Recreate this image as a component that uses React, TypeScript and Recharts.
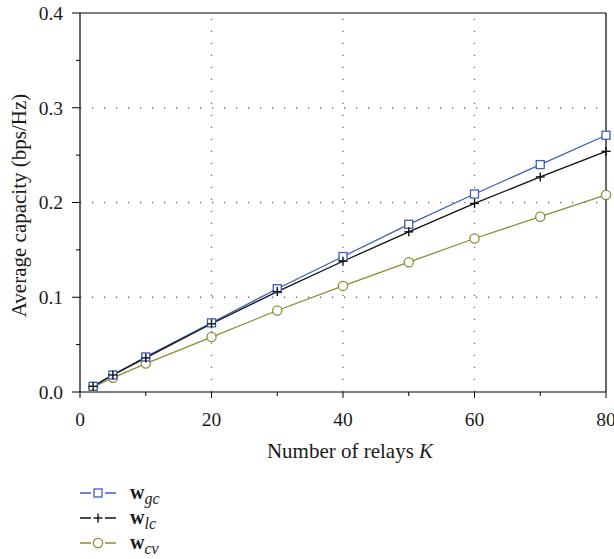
import { LineChart, Line, XAxis, YAxis, ReferenceLine, Label } from 'recharts';

const relays = [2, 5, 10, 20, 30, 40, 50, 60, 70, 80];
const wGc = [0.006, 0.018, 0.037, 0.073, 0.109, 0.143, 0.177, 0.209, 0.240, 0.271];
const wLc = [0.006, 0.018, 0.036, 0.072, 0.106, 0.138, 0.169, 0.199, 0.227, 0.254];
const wCv = [0.005, 0.015, 0.030, 0.058, 0.086, 0.112, 0.137, 0.162, 0.185, 0.208];

const xTicks = [0, 10, 20, 30, 40, 50, 60, 70, 80];
const yTicks = [0, 0.05, 0.1, 0.15, 0.2, 0.25, 0.3, 0.35, 0.4];
const xGrid = [20, 40, 60];
const yGrid = [0.1, 0.2, 0.3];

const BLUE = '#3f5fb8';
const BLACK = '#111111';
const OLIVE = '#8c8c34';
const FONT = '"Liberation Serif", "Times New Roman", serif';

const data = relays.map((k, i) => ({ k, gc: wGc[i], lc: wLc[i], cv: wCv[i] }));

const series = [
  { key: 'gc', sub: 'gc', color: BLUE, marker: 'square' },
  { key: 'lc', sub: 'lc', color: BLACK, marker: 'plus' },
  { key: 'cv', sub: 'cv', color: OLIVE, marker: 'circle' },
];

function Marker({ cx, cy, kind, color }: { cx: number; cy: number; kind: string; color: string }) {
  if (kind === 'square') {
    return <rect x={cx - 4} y={cy - 4} width={8} height={8} fill="#fff" stroke={color} strokeWidth={1.3} />;
  }
  if (kind === 'plus') {
    return (
      <g stroke={color} strokeWidth={1.4}>
        <line x1={cx - 4.5} x2={cx + 4.5} y1={cy} y2={cy} />
        <line x1={cx} x2={cx} y1={cy - 4.5} y2={cy + 4.5} />
      </g>
    );
  }
  return <circle cx={cx} cy={cy} r={4.6} fill="#fff" stroke={color} strokeWidth={1.3} />;
}

function XTick(props: any) {
  const { x, y, payload } = props;
  const major = payload.value % 20 === 0;
  return (
    <g>
      <line x1={x} x2={x} y1={y} y2={y + (major ? 6 : 4)} stroke="#000" />
      {major && (
        <text x={x} y={y + 34} textAnchor="middle" fontSize={19.5} fontFamily={FONT} fill="#1a1a1a">
          {payload.value}
        </text>
      )}
    </g>
  );
}

function YTick(props: any) {
  const { x, y, payload } = props;
  const major = Math.round(payload.value * 100) % 10 === 0;
  return (
    <g>
      <line x1={x} x2={x - (major ? 8 : 4)} y1={y} y2={y} stroke="#000" />
      {major && (
        <text x={x - 17} y={y} dy="0.35em" textAnchor="end" fontSize={19.5} fontFamily={FONT} fill="#1a1a1a">
          {payload.value.toFixed(1)}
        </text>
      )}
    </g>
  );
}

function LegendIcon({ kind, color }: { kind: string; color: string }) {
  return (
    <svg width={36} height={14} style={{ display: 'block' }}>
      <line x1={0} x2={36} y1={7} y2={7} stroke={color} strokeWidth={1.3} />
      <rect x={11} y={1} width={14} height={12} fill="#fff" />
      <Marker cx={18} cy={7} kind={kind} color={color} />
    </svg>
  );
}

export default function App() {
  return (
    <div style={{ position: 'absolute', left: 0, top: 0, width: 614, height: 559, background: '#fff' }}>
      <LineChart width={614} height={559} data={data} margin={{ top: 13, right: 8, left: 0, bottom: 117 }}>
        {xGrid.map((v) => (
          <ReferenceLine key={`x${v}`} x={v} stroke="#777" strokeWidth={1.3} strokeDasharray="1.3 10.7" />
        ))}
        {yGrid.map((v) => (
          <ReferenceLine key={`y${v}`} y={v} stroke="#777" strokeWidth={1.3} strokeDasharray="1.3 10.7" />
        ))}
        <ReferenceLine y={0.4} stroke="#000" strokeWidth={1.2} />
        <ReferenceLine x={80} stroke="#000" strokeWidth={1.2} />
        <XAxis
          dataKey="k"
          type="number"
          domain={[0, 80]}
          ticks={xTicks}
          interval={0}
          height={50}
          tickLine={false}
          tickSize={0}
          tickMargin={0}
          stroke="#000"
          strokeWidth={1.2}
          tick={<XTick />}
        >
          <Label
            content={(p: any) => {
              const vb = p.viewBox;
              return (
                <text x={vb.x + vb.width / 2 + 7} y={vb.y + 66} textAnchor="middle" fontSize={21} fontFamily={FONT} fill="#1a1a1a">
                  Number of relays <tspan fontStyle="italic">K</tspan>
                </text>
              );
            }}
          />
        </XAxis>
        <YAxis
          type="number"
          domain={[0, 0.4]}
          ticks={yTicks}
          interval={0}
          width={80}
          tickLine={false}
          tickSize={0}
          tickMargin={0}
          stroke="#000"
          strokeWidth={1.2}
          tick={<YTick />}
        >
          <Label
            content={(p: any) => {
              const vb = p.viewBox;
              const cx = vb.x + 19;
              const cy = vb.y + vb.height / 2 + 3;
              return (
                <text x={cx} y={cy} transform={`rotate(-90 ${cx} ${cy})`} textAnchor="middle" dy="0.35em" fontSize={21} fontFamily={FONT} fill="#1a1a1a">
                  Average capacity (bps/Hz)
                </text>
              );
            }}
          />
        </YAxis>
        {[series[2], series[0], series[1]].map((s) => (
          <Line
            key={s.key}
            dataKey={s.key}
            type="linear"
            stroke={s.color}
            strokeWidth={1.3}
            isAnimationActive={false}
            dot={(p: any) => <Marker key={`${s.key}-${p.index}`} cx={p.cx} cy={p.cy} kind={s.marker} color={s.color} />}
            activeDot={false}
          />
        ))}
      </LineChart>
      <div style={{ position: 'absolute', left: 80, top: 480, fontFamily: FONT, color: '#1a1a1a' }}>
        {series.map((s) => (
          <div key={s.key} style={{ display: 'flex', alignItems: 'center', height: 25 }}>
            <LegendIcon kind={s.marker} color={s.color} />
            <span style={{ marginLeft: 14, fontSize: 20, lineHeight: '20px' }}>
              <b>w</b>
              <i style={{ fontSize: 16, position: 'relative', top: 5 }}>{s.sub}</i>
            </span>
          </div>
        ))}
      </div>
    </div>
  );
}
